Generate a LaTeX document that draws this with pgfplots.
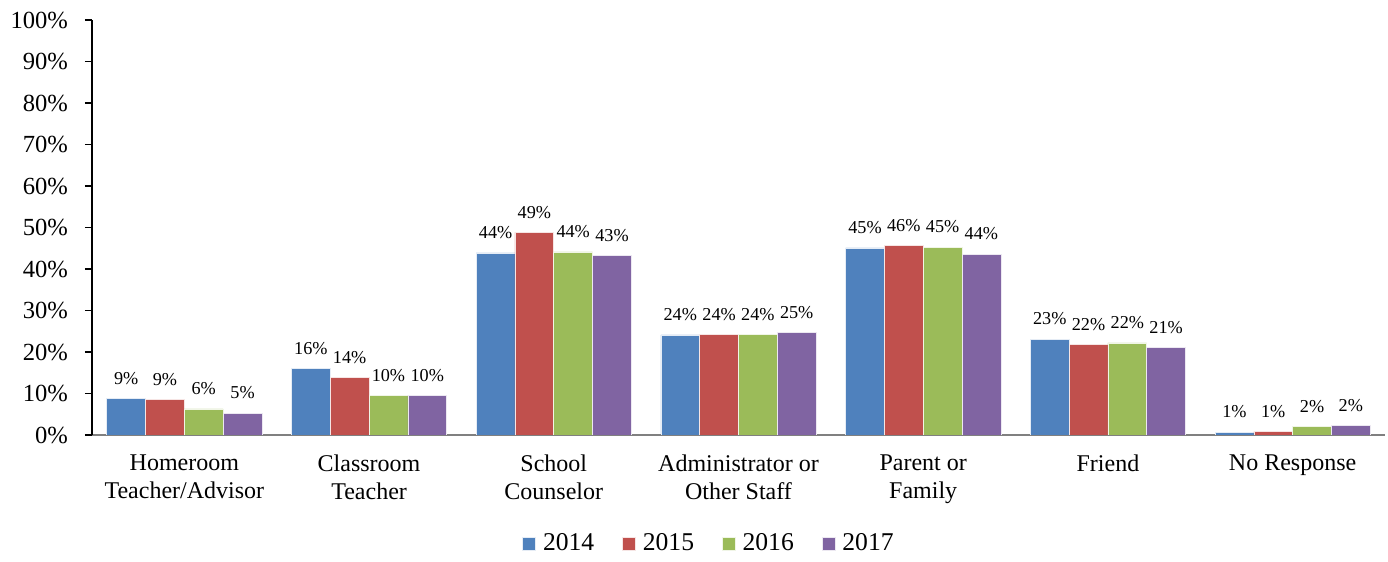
\documentclass[border=0pt]{standalone}
\usepackage{pgfplots}
\pgfplotsset{compat=1.18}
\usepackage{fontspec}
\setmainfont{Liberation Serif}
\definecolor{c14}{HTML}{4F81BD}
\definecolor{c15}{HTML}{C0504D}
\definecolor{c16}{HTML}{9BBB59}
\definecolor{c17}{HTML}{8064A2}
\begin{document}
\begin{tikzpicture}
\begin{axis}[
    scale only axis,
    width=646.5pt, height=207.5pt,
    ybar=0pt, bar width=19.4pt,
    xmin=-0.5, xmax=6.5,
    ymin=0, ymax=100,
    ytick={0,10,...,100},
    yticklabel={\pgfmathprintnumber{\tick}\%},
    yticklabel style={font=\fontsize{12.3}{12}\selectfont, xshift=-5pt},
    /pgf/number format/assume math mode=true,
    xtick={0,...,6},
    xticklabels={Homeroom\\Teacher/Advisor, Classroom\\Teacher, School\\Counselor,
                 Administrator or\\Other Staff, Parent or\\Family, Friend, No Response},
    xticklabel style={align=center, anchor=north, yshift=-3pt,
                      font=\fontsize{12}{14}\selectfont},
    major x tick style={draw=none},
    axis x line*=bottom, axis y line*=left,
    axis line style={-},
    x axis line style={draw=gray, line width=1.3pt},
    y axis line style={draw=black, line width=0.8pt},
    ytick style={draw=black, line width=0.8pt},
    tick align=outside, major tick length=3.5pt,
    nodes near coords={\pgfmathprintnumber[fixed,precision=0]{\pgfplotspointmeta}\%},
    every node near coord/.append style={font=\fontsize{9.1}{10}\selectfont, black, yshift=3.5pt},
    legend columns=4,
    legend style={draw=none, at={(0.478,-0.262)}, anchor=center,
                  font=\fontsize{12.8}{13}\selectfont,
                  /tikz/every odd column/.append style={column sep=1.5pt},
                  /tikz/every even column/.append style={column sep=12pt}},
    legend image code/.code={\fill[#1] (0pt,-3.25pt) rectangle (6.5pt,3.25pt);},
]
\addplot[fill=c14, draw=white!85!c14, line width=0.3pt] coordinates {(0,8.8) (1,16.0) (2,43.9) (3,24.1) (4,45.1) (5,23.1) (6,0.7)};
\addplot[fill=c15, draw=white!85!c15, line width=0.3pt] coordinates {(0,8.6) (1,13.9) (2,48.8) (3,24.2) (4,45.7) (5,21.8) (6,0.8)};
\addplot[fill=c16, draw=white!85!c16, line width=0.3pt] coordinates {(0,6.3) (1,9.5) (2,44.1) (3,24.2) (4,45.3) (5,22.2) (6,2.0)};
\addplot[fill=c17, draw=white!85!c17, line width=0.3pt] coordinates {(0,5.3) (1,9.5) (2,43.2) (3,24.7) (4,43.6) (5,21.1) (6,2.3)};
\legend{2014,2015,2016,2017}
\end{axis}
\path ([xshift=-46pt,yshift=10pt]current axis.north west) rectangle ([xshift=1.5pt,yshift=-60pt]current axis.south east);
\end{tikzpicture}
\end{document}
